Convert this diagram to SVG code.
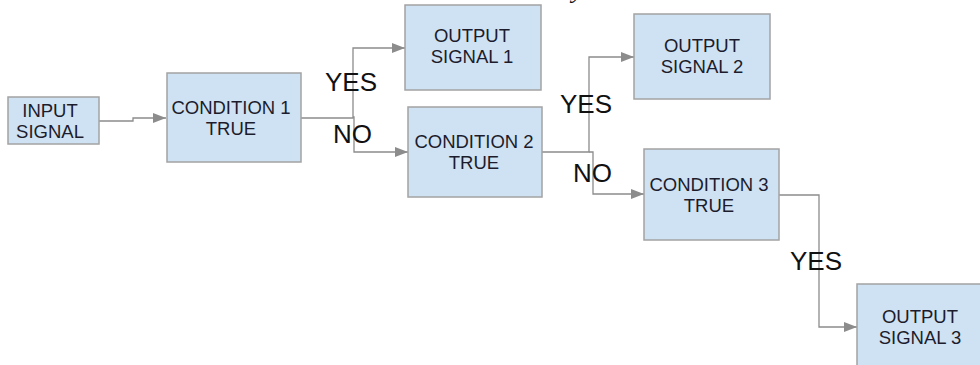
<svg xmlns="http://www.w3.org/2000/svg" width="980" height="365" viewBox="0 0 980 365">
  <style>
    .box { fill: #cfe2f3; stroke: #a3a3a3; stroke-width: 1.5; }
    .lbl { font-family: "Liberation Sans", Arial, sans-serif; font-size: 18.5px; fill: #1c1c2c; text-anchor: middle; }
    .br { font-family: "Liberation Sans", Arial, sans-serif; font-size: 26px; fill: #111; }
    .wire { fill: none; stroke: #8c8c8c; stroke-width: 1.3; }
  </style>
  <defs>
    <marker id="arrow" viewBox="0 0 13 10" refX="13" refY="5" markerWidth="13" markerHeight="10" markerUnits="userSpaceOnUse" orient="auto">
      <path d="M0,0 L13,5 L0,10 Z" fill="#8c8c8c"/>
    </marker>
  </defs>
  <rect width="980" height="365" fill="#ffffff"/>

  <!-- clipped heading fragment along the top edge -->
  <text x="572" y="-2" font-family="Liberation Serif, serif" font-style="italic" font-size="26" fill="#111">y</text>

  <g id="connectors">
    <polyline class="wire" points="99,121 133,121 133,118 166,118" marker-end="url(#arrow)"/>
    <polyline class="wire" points="301,118 353,118 353,48 405,48" marker-end="url(#arrow)"/>
    <polyline class="wire" points="353,117 354,117 354,152 408,152" marker-end="url(#arrow)"/>
    <polyline class="wire" points="542,152 589,152 589,57 634,57" marker-end="url(#arrow)"/>
    <polyline class="wire" points="589,152 593,152 593,194 644,194" marker-end="url(#arrow)"/>
    <polyline class="wire" points="779,195 819,195 819,327 857,327" marker-end="url(#arrow)"/>
  </g>

  <g id="input-signal">
    <rect class="box" x="8" y="97" width="91" height="47"/>
    <text class="lbl" x="50" y="117">INPUT</text>
    <text class="lbl" x="50" y="138">SIGNAL</text>
  </g>

  <g id="condition-1">
    <rect class="box" x="167" y="73" width="134" height="89"/>
    <text class="lbl" x="231" y="114">CONDITION 1</text>
    <text class="lbl" x="231" y="135">TRUE</text>
  </g>

  <g id="output-signal-1">
    <rect class="box" x="405" y="5" width="136" height="85"/>
    <text class="lbl" x="472" y="42">OUTPUT</text>
    <text class="lbl" x="472" y="63">SIGNAL 1</text>
  </g>

  <g id="condition-2">
    <rect class="box" x="408" y="107" width="134" height="90"/>
    <text class="lbl" x="474" y="148">CONDITION 2</text>
    <text class="lbl" x="474" y="169">TRUE</text>
  </g>

  <g id="output-signal-2">
    <rect class="box" x="634" y="14" width="136" height="85"/>
    <text class="lbl" x="702" y="52">OUTPUT</text>
    <text class="lbl" x="702" y="73">SIGNAL 2</text>
  </g>

  <g id="condition-3">
    <rect class="box" x="644" y="149" width="135" height="91"/>
    <text class="lbl" x="709" y="191">CONDITION 3</text>
    <text class="lbl" x="709" y="212">TRUE</text>
  </g>

  <g id="output-signal-3">
    <rect class="box" x="857" y="284" width="140" height="100"/>
    <text class="lbl" x="920" y="323">OUTPUT</text>
    <text class="lbl" x="920" y="344">SIGNAL 3</text>
  </g>

  <g id="branch-labels">
    <text class="br" x="325" y="91">YES</text>
    <text class="br" x="333" y="143">NO</text>
    <text class="br" x="560" y="113">YES</text>
    <text class="br" x="573" y="182">NO</text>
    <text class="br" x="790" y="270">YES</text>
  </g>
</svg>
